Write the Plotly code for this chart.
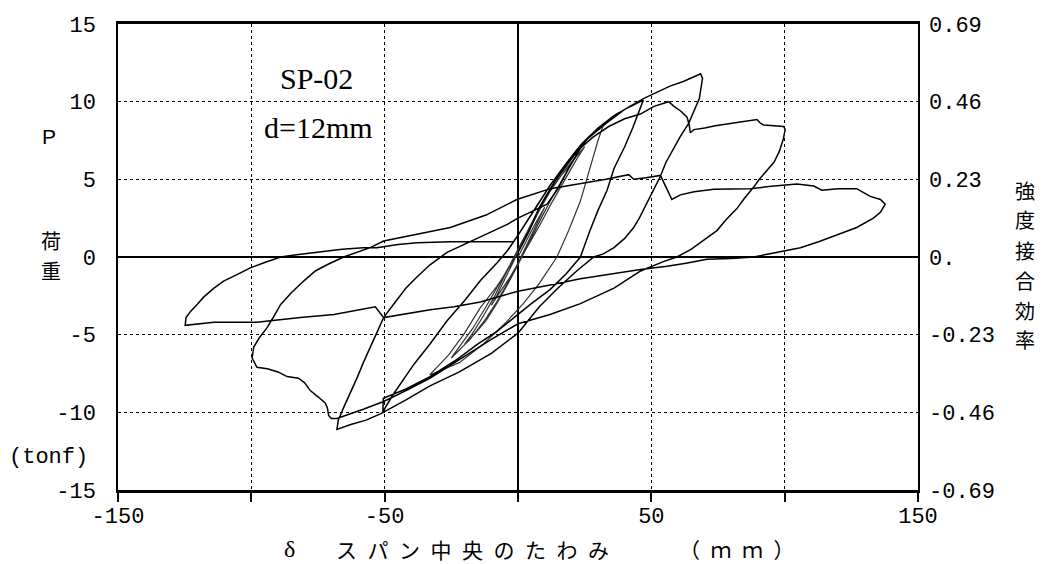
import plotly.graph_objects as go

# Small elastic cycles (about +-10, +-20, +-25, +-33 mm)
elastic_x = [0, 3, 6, 10, 8, 5, 2, 0, -3, -6, -10, -8, -5, -2, 0, 4, 8, 12, 16, 20,
             17, 13, 9, 5, 2, 0, -4, -8, -12, -16, -20, -17, -13, -9, -5, -2, 0, 5,
             10, 15, 20, 25, 22, 18, 13, 8, 4, 1, -3, -8, -13, -18, -25, -22, -17,
             -12, -7, -3, 0, 5, 10, 16, 22, 27, 32, 30, 27.5, 25, 23.4, 19, 14.6, 8,
             2, -5, -13, -22, -33, -32.9, -26, -20.4, -14.1, -8, -4.1, 0]
elastic_y = [0, 1.0, 2.0, 3.2, 2.5, 1.4, 0.3, -0.4, -1.3, -2.1, -3.1, -2.5, -1.5, -0.4,
             0.3, 1.7, 3.0, 4.2, 5.2, 6.0, 5.1, 3.9, 2.6, 1.2, 0.2, -0.5, -1.8, -3.0,
             -4.1, -4.9, -5.6, -4.9, -3.8, -2.6, -1.2, -0.2, 0.5, 2.1, 3.7, 5.0, 6.1,
             7.1, 6.3, 5.1, 3.6, 2.0, 0.8, -0.1, -1.4, -2.9, -4.2, -5.3, -6.5, -5.8,
             -4.6, -3.2, -1.7, -0.5, 0.5, 2.2, 3.8, 5.5, 6.9, 7.8, 8.5, 7.5, 6.0, 4.6,
             3.6, 1.7, 0.0, -1.7, -3.0, -4.3, -5.6, -6.8, -7.6, -7.55, -6.3, -5.0,
             -3.26, -1.9, -0.9, 0.3]

# Cycle to +47 mm and -50 mm
c50_x = [4, 8, 14, 20, 26, 33, 40, 47, 45.5, 43, 40, 36, 33.4, 30, 27, 24.5, 23.4,
         18, 12, 5, 0, -8, -15, -23, -33, -42, -50.5, -50.7, -50.5, -47, -39, -33,
         -26.6, -20, -14, -8, -4, 0, 6, 12, 18, 24, 30, 36, 42, 47, 52, 57, 62, 66,
         68.5, 69.2]
c50_y = [1.6, 3.2, 4.9, 6.3, 7.6, 8.6, 9.5, 10.1, 9.4, 8.3, 7.1, 5.7, 4.3, 3.0, 1.7,
         0.5, 0.0, -1.1, -2.1, -3.0, -3.7, -4.8, -5.6, -6.6, -7.7, -8.5, -9.1, -10.0,
         -9.9, -8.9, -6.9, -5.6, -4.1, -2.8, -1.5, -0.4, 0.4, 1.4, 3.0, 4.6, 6.0, 7.3,
         8.3, 9.1, 9.7, 10.2, 10.6, 11.0, 11.3, 11.6, 11.8, 11.5]

# Unloading from +69 mm down to -68 mm
c70_x = [68.8, 68, 66, 64, 61, 58.3, 55.5, 53.4, 50.5, 48.4, 45.5, 43.4, 40, 36, 32,
         28.4, 22, 15, 8, 0, -10, -22, -33, -42, -51.6, -57, -63, -67.9]
c70_y = [11.0, 10.2, 9.4, 8.6, 7.8, 7.0, 6.1, 5.2, 4.2, 3.4, 2.5, 1.9, 1.2, 0.6, 0.2,
         0.0, -0.9, -2.0, -3.2, -4.9, -6.2, -7.4, -8.3, -9.2, -10.1, -10.5, -10.8,
         -11.1]

# Reloading from -68 mm up to +100 mm (load drop past the previous peak)
c100_x = [-67.4, -65.4, -63, -60.4, -58, -55.4, -52.5, -50.4, -46, -42, -38, -33,
          -26.6, -21.6, -15, -9.3, -4, 0, 6, 10.9, 15, 19, 23.4, 28, 34, 40, 45.9,
          51, 56.5, 58.5, 61, 63.4, 64.2, 64.6, 66, 70, 74, 78, 83, 87, 89.6, 91,
          92.1, 96, 99.6, 100.2]
c100_y = [-10.5, -9.7, -8.8, -7.8, -6.8, -5.8, -4.7, -3.9, -2.9, -2.0, -1.3, -0.5,
          0.3, 0.7, 1.2, 1.7, 2.1, 2.5, 3.0, 3.4, 4.4, 5.7, 7.0, 7.7, 8.4, 8.9, 9.2,
          9.7, 10.0, 9.7, 9.4, 9.0, 8.5, 8.0, 8.2, 8.3, 8.45, 8.55, 8.7, 8.8, 8.85,
          8.6, 8.5, 8.45, 8.4, 8.2]

# Unloading from +100 mm, loading to -100 mm with strength loss
n100_x = [99.5, 98, 96, 93, 90.5, 88.4, 85, 82, 78, 74.6, 70, 65, 59.6, 54.5, 46, 36,
          23.4, 12, 0, -10, -22, -32.9, -42, -50.4, -58, -63, -67.9, -70, -71, -71.5,
          -72.3, -75, -77.9, -80, -82.3, -86.6, -90, -94, -97.9, -99.7]
n100_y = [7.6, 6.8, 6.1, 5.5, 5.0, 4.5, 3.8, 3.1, 2.4, 1.7, 1.1, 0.5, 0.0, -0.3, -0.9,
          -2.0, -3.0, -3.7, -4.3, -5.3, -6.6, -7.8, -8.6, -9.3, -9.8, -10.1, -10.4,
          -10.4, -10.2, -9.7, -9.4, -9.0, -8.6, -8.1, -7.8, -7.7, -7.4, -7.2, -7.1,
          -6.5]

# Reloading from -100 mm out to +139 mm
p140_x = [-99.1, -97, -94.1, -91.5, -89, -85, -80.4, -76, -71.6, -65.4, -60, -55.4,
          -50.4, -40, -25.4, -12, -0.4, 12.1, 23.4, 33, 41.5, 43.4, 48, 53.4, 55.5,
          57.7, 60.9, 66, 73.4, 80, 87.1, 95, 99.6, 104.6, 110.9, 114, 120, 127,
          129.6, 132.1, 135.9, 137.7]
p140_y = [-5.8, -5.2, -4.55, -3.8, -3.05, -2.3, -1.55, -0.9, -0.5, 0.0, 0.35, 0.6,
          1.03, 1.4, 1.9, 2.7, 3.7, 4.4, 4.7, 5.0, 5.3, 5.0, 5.1, 5.25, 4.5, 3.7, 4.0,
          4.2, 4.36, 4.4, 4.4, 4.55, 4.6, 4.7, 4.57, 4.3, 4.4, 4.4, 4.14, 3.9, 3.7,
          3.4]

# Unloading from +139 mm, loading to -125 mm
n125_x = [136, 133.3, 127, 120.9, 113, 105.9, 97, 88.4, 80, 70.9, 63, 55.9, 45.9, 35,
          23.4, 12, 0, -14.1, -24, -32.9, -44, -50.4, -53.5, -60, -69, -81.6, -97.9,
          -114, -124.8]
n125_y = [2.9, 2.5, 1.9, 1.5, 1.0, 0.6, 0.3, 0.0, -0.1, -0.15, -0.4, -0.6, -0.8, -1.1,
          -1.4, -1.8, -2.2, -2.9, -3.2, -3.4, -3.7, -3.9, -3.2, -3.4, -3.7, -3.9, -4.2,
          -4.2, -4.4]

# Final return from -125 mm toward zero
ret_x = [-124.5, -122.8, -120, -118, -114, -110.4, -105, -100.4, -95, -89, -83,
         -76.6, -66, -58, -52.9, -45, -37.9, -25.4, -12, -1.6]
ret_y = [-3.9, -3.5, -3.0, -2.6, -2.0, -1.55, -1.1, -0.7, -0.35, 0.0, 0.15, 0.28, 0.5,
         0.6, 0.6, 0.8, 0.92, 0.98, 1.0, 0.98]

x_ticks = [-150, -100, -50, 0, 50, 100, 150]
x_tick_text = ["-150", "", "-50", "", "50", "", "150"]
y_ticks = [-15, -10, -5, 0, 5, 10, 15]
y_tick_text = ["-15", "-10", "-5", "0", "5", "10", "15"]
eff_ticks = [-0.69, -0.46, -0.23, 0, 0.23, 0.46, 0.69]
eff_tick_text = ["-0.69", "-0.46", "-0.23", "0.", "0.23", "0.46", "0.69"]

main_x = c50_x + c70_x + c100_x + n100_x + p140_x + n125_x + ret_x
main_y = c50_y + c70_y + c100_y + n100_y + p140_y + n125_y + ret_y

W, H = 1043, 564
L, R, T, B = 118, 125, 24, 74
SERIF = "Liberation Serif"
MONO = "Liberation Mono"
JP = "Noto Sans CJK JP"

fig = go.Figure()
fig.add_trace(go.Scatter(x=elastic_x, y=elastic_y, mode="lines",
                         line=dict(color="#333333", width=1.2),
                         showlegend=False, hoverinfo="skip"))
fig.add_trace(go.Scatter(x=elastic_x[-1:] + main_x, y=elastic_y[-1:] + main_y,
                         mode="lines", line=dict(color="black", width=1.5),
                         showlegend=False))
# Right-hand efficiency axis carrier
fig.add_trace(go.Scatter(x=[None], y=[None], yaxis="y2", showlegend=False,
                         hoverinfo="skip"))

tick_font = dict(family=MONO, size=22, color="black")

fig.update_layout(
    width=W, height=H,
    margin=dict(l=L, r=R, t=T, b=B),
    paper_bgcolor="white", plot_bgcolor="white",
    font=dict(family=SERIF, color="black", size=22),
    xaxis=dict(range=[-150, 150], tickvals=x_ticks, ticktext=x_tick_text,
               ticks="outside", ticklen=9, tickwidth=1.5, tickcolor="black",
               showgrid=True, gridcolor="black", gridwidth=1, griddash="dot",
               zeroline=True, zerolinecolor="black", zerolinewidth=1.5,
               showline=True, linecolor="black", linewidth=3, mirror=True,
               ticklabelstandoff=-5, tickfont=tick_font),
    yaxis=dict(range=[-15, 15], tickvals=y_ticks, ticktext=y_tick_text,
               showgrid=True, gridcolor="black", gridwidth=1, griddash="dot",
               zeroline=True, zerolinecolor="black", zerolinewidth=2,
               showline=True, linecolor="black", linewidth=1.5, mirror=True,
               ticks="", ticklabelstandoff=16, tickfont=tick_font),
    yaxis2=dict(range=[-0.69, 0.69], overlaying="y", side="right",
                tickvals=eff_ticks, ticktext=eff_tick_text, showgrid=False,
                zeroline=False, showline=False, ticks="", ticklabelstandoff=10,
                tickfont=tick_font),
)


def px(x):
    return (x - L) / (W - L - R)


def py(y):
    return (H - B - y) / (H - T - B)


def label(text, x, y, size, family=SERIF, xanchor="center", yanchor="middle"):
    fig.add_annotation(text=text, xref="paper", yref="paper", x=px(x), y=py(y),
                       showarrow=False, xanchor=xanchor, yanchor=yanchor,
                       font=dict(family=family, size=size, color="black"))


label("SP-02", 316, 78, 30)
label("d=12mm", 318, 128, 30)
label("P", 49, 136, 21, family="Liberation Sans")
for ch, yy in zip("荷重", [240, 270]):
    label(ch, 51, yy, 20, family=JP)
label("(tonf)", 48, 457, 22, family=MONO)
for ch, yy in zip("強度接合効率", [190, 220, 250, 280, 310, 340]):
    label(ch, 1025, yy, 20, family=JP)
label("δ", 289, 549, 24, family=SERIF)
label("ス\u2002パ\u2002ン\u2002中\u2002央\u2002の\u2002た\u2002わ\u2002み", 472, 549, 21,
      family=JP)
label("（\u2002ｍ\u2002ｍ\u2002）", 737, 549, 21, family=JP)

fig.write_html("out.html")
